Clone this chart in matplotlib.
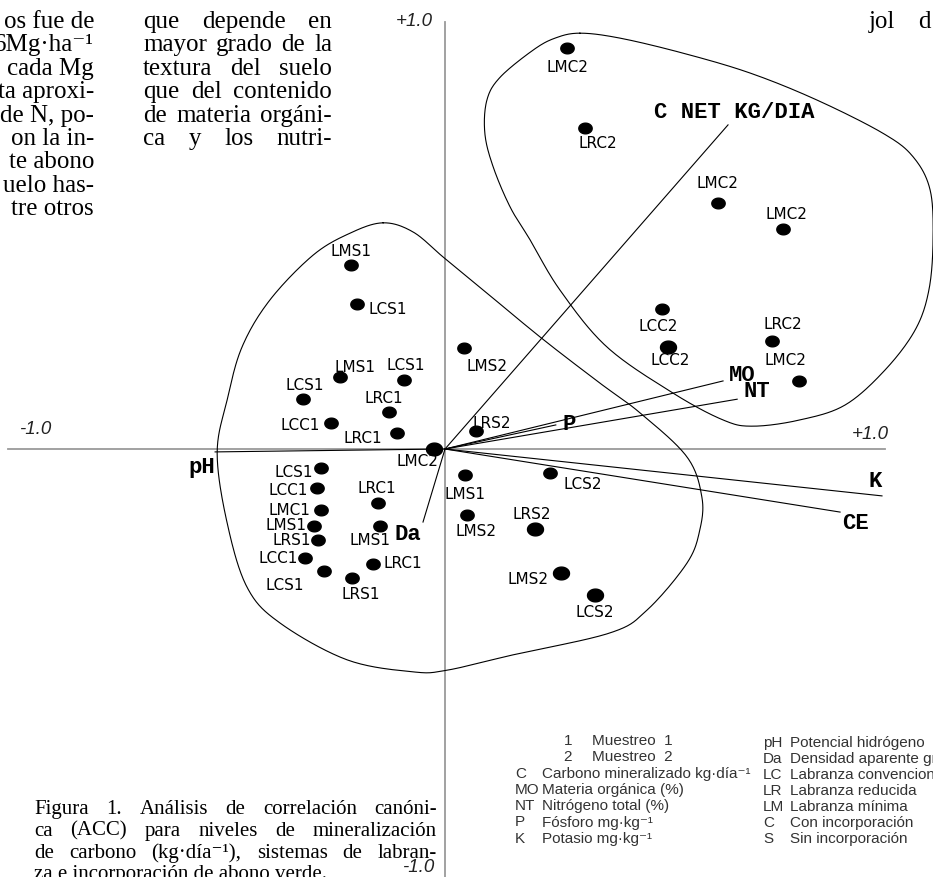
import numpy as np
import matplotlib
matplotlib.use('Agg')
import matplotlib.pyplot as plt
from matplotlib.path import Path

W, H = 933, 877
SERIF = ['Liberation Serif', 'DejaVu Serif']
SANS = ['Liberation Sans', 'DejaVu Sans']
MONO = ['Liberation Mono', 'DejaVu Sans Mono']

# canonical scores of the samples (axis 1, axis 2)
sample_names = ['LMC2', 'LRC2', 'LMC2', 'LMC2', 'LCC2', 'LCC2', 'LRC2', 'LMC2',
                'LMS2', 'LRS2', 'LMC2', 'LMS1', 'LCS2', 'LMS2', 'LRS2', 'LMS2', 'LCS2',
                'LMS1', 'LCS1', 'LMS1', 'LCS1', 'LCS1', 'LRC1', 'LCC1', 'LRC1',
                'LCS1', 'LCC1', 'LMC1', 'LMS1', 'LRS1', 'LCC1', 'LCS1', 'LRS1',
                'LRC1', 'LMS1', 'LRC1']
sample_x = [0.294, 0.337, 0.658, 0.814, 0.523, 0.537, 0.788, 0.853,
            0.046, 0.075, -0.027, 0.048, 0.253, 0.053, 0.217, 0.280, 0.361,
            -0.227, -0.212, -0.253, -0.099, -0.342, -0.135, -0.275, -0.116,
            -0.299, -0.308, -0.299, -0.316, -0.306, -0.337, -0.292, -0.224,
            -0.161, -0.157, -0.173]
sample_y = [0.966, 0.773, 0.593, 0.530, 0.337, 0.246, 0.260, 0.164,
            0.243, 0.043, 0.000, -0.063, -0.058, -0.159, -0.193, -0.299, -0.352,
            0.443, 0.349, 0.173, 0.166, 0.120, 0.089, 0.063, 0.039,
            -0.046, -0.094, -0.147, -0.186, -0.219, -0.263, -0.294, -0.311,
            -0.130, -0.186, -0.277]

# correlations of the variables with the canonical axes
var_names = ['C NET KG/DIA', 'MO', 'NT', 'P', 'K', 'CE', 'pH', 'Da']
var_x = [0.682, 0.670, 0.704, 0.267, 1.053, 0.952, -0.554, -0.053]
var_y = [0.781, 0.164, 0.120, 0.058, -0.113, -0.152, -0.007, -0.176]

# outline of the two groups of samples
group1_x = [0.325, 0.422, 0.573, 0.735, 0.896, 1.055, 1.128, 1.169, 1.176, 1.166,
            1.133, 1.060, 0.964, 0.855, 0.742, 0.670, 0.549, 0.390, 0.277, 0.205,
            0.157, 0.116, 0.096, 0.101, 0.133, 0.212, 0.265]
group1_y = [1.002, 0.990, 0.954, 0.906, 0.841, 0.761, 0.704, 0.624, 0.504, 0.383,
            0.287, 0.190, 0.106, 0.070, 0.055, 0.070, 0.135, 0.246, 0.383, 0.504,
            0.583, 0.680, 0.761, 0.841, 0.896, 0.961, 0.990]
group2_x = [-0.149, -0.077, -0.005, 0.072, 0.229, 0.373, 0.470, 0.583, 0.619, 0.614,
            0.583, 0.487, 0.398, 0.164, 0.005, -0.077, -0.236, -0.398, -0.477, -0.525,
            -0.549, -0.525, -0.489, -0.422, -0.318, -0.229]
group2_y = [0.545, 0.523, 0.463, 0.400, 0.270, 0.159, 0.087, -0.019, -0.116, -0.195,
            -0.275, -0.388, -0.443, -0.496, -0.533, -0.537, -0.508, -0.419, -0.333, -0.178,
            -0.010, 0.118, 0.246, 0.359, 0.467, 0.520]

col1 = ['os fue de', '6Mg·ha⁻¹', 'cada Mg', 'ta aproxi-', 'de N, po-',
        'on la in-', 'te abono', 'uelo has-', 'tre otros']
col2 = ['que depende en', 'mayor grado de la', 'textura del suelo',
        'que del contenido', 'de materia orgáni-', 'ca y los nutri-']
caption = ['Figura 1. Análisis de correlación canóni-',
           'ca (ACC) para niveles de mineralización',
           'de carbono (kg·día⁻¹), sistemas de labran-',
           'za e incorporación de abono verde.']
legend_left = [('1', 'Muestreo  1'), ('2', 'Muestreo  2'),
               ('C', 'Carbono mineralizado kg·día⁻¹'), ('MO', 'Materia orgánica (%)'),
               ('NT', 'Nitrógeno total (%)'), ('P', 'Fósforo mg·kg⁻¹'),
               ('K', 'Potasio mg·kg⁻¹')]
legend_right = [('pH', 'Potencial hidrógeno'), ('Da', 'Densidad aparente gr·cm⁻³'),
                ('LC', 'Labranza convencional'), ('LR', 'Labranza reducida'),
                ('LM', 'Labranza mínima'), ('C', 'Con incorporación'),
                ('S', 'Sin incorporación')]

# label offsets (pixels) for samples and vectors
label_off = [(0, -19), (13, -15), (-1, 19), (4, 15), (-4, -17), (2, -14), (11, 17), (-14, 20),
             (23, -18), (16, 8), (-16, -13), (0, -19), (33, -11), (9, -17), (-3, 15), (-33, -6),
             (0, -17),
             (0, 14), (31, -5), (15, 10), (2, 15), (2, 14), (-5, 14), (-31, -3), (-34, -6),
             (-27, -4), (-29, -2), (-31, 0), (-28, 1), (-26, -1), (-27, 0), (-39, -14), (9, -16),
             (-1, 14), (-10, -14), (30, 0)]
big = {5, 10, 14, 15, 16}
var_off = [(6, 12), (19, 5), (20, 8), (13, 0), (-7, 14), (15, -11), (-13, -16), (-15, -12)]

UNIT = 415.0
OX, OY = 445.0, 449.0

fig = plt.figure(figsize=(W / 100, H / 100), dpi=100)
ax = fig.add_axes([0, 0, 1, 1])
ax.set_xlim(-OX / UNIT, (W - OX) / UNIT)
ax.set_ylim(-(H - OY) / UNIT, OY / UNIT)
ax.axis('off')


def fx(x):
    return x / W


def fy(y):
    return 1 - y / H


def smooth_closed(xs, ys, n=20):
    p = np.c_[xs, ys]
    m = len(p)
    out = []
    t = np.linspace(0, 1, n, endpoint=False)[:, None]
    for i in range(m):
        p0, p1, p2, p3 = p[i - 1], p[i], p[(i + 1) % m], p[(i + 2) % m]
        out.append(0.5 * (2 * p1 + (-p0 + p2) * t + (2 * p0 - 5 * p1 + 4 * p2 - p3) * t ** 2
                          + (-p0 + 3 * p1 - 3 * p2 + p3) * t ** 3))
    out = np.vstack(out + [p[:1]])
    return out[:, 0], out[:, 1]


# axes through the origin
ax.plot([-1.053, 1.060], [0, 0], color='#9a9a9a', lw=1.3, zorder=1)
ax.plot([0, 0], [1.03, -1.06], color='#9a9a9a', lw=1.3, zorder=1)
lab = dict(family=SANS, style='italic', size=13.5, color='#222', ha='center', va='center')
ax.text(1.024, 0.034, '+1.0', **lab)
ax.text(-0.988, 0.046, '-1.0', **lab)
ax.text(-0.075, 1.031, '+1.0', **lab)
ax.text(-0.065, -1.009, '-1.0', **lab)

# group outlines
for gx, gy in [(group1_x, group1_y), (group2_x, group2_y)]:
    sx, sy = smooth_closed(gx, gy)
    ax.plot(sx, sy, color='k', lw=0.8, zorder=2)

# variable vectors
for name, vx, vy, off in zip(var_names, var_x, var_y, var_off):
    ax.plot([0, vx], [0, vy], color='k', lw=0.8, zorder=2)
    ax.annotate(name, (vx, vy), xytext=off, textcoords='offset pixels',
                ha='center', va='center', family=MONO, weight='bold', size=16)

# sample scores
th = np.linspace(0, 2 * np.pi, 48)
dot = Path(np.c_[1.25 * np.cos(th), np.sin(th)], closed=True)
for i, (name, x, y) in enumerate(zip(sample_names, sample_x, sample_y)):
    ax.plot(x, y, ls='none', marker=dot, ms=11.5 if i in big else 9.6,
            color='k', mec='k', zorder=3)
    ax.annotate(name, (x, y), xytext=label_off[i], textcoords='offset pixels',
                ha='center', va='center', family=['DejaVu Sans'], size=11)

# page text around the figure
renderer = fig.canvas.get_renderer()


def justify(line, x0, x1, y, size, last=False):
    if last:
        fig.text(fx(x0), fy(y), line, family=SERIF, size=size, va='baseline')
        return
    items = [fig.text(fx(x0), fy(y), w, family=SERIF, size=size, va='baseline')
             for w in line.split()]
    widths = [t.get_window_extent(renderer).width for t in items]
    gap = (x1 - x0 - sum(widths)) / (len(items) - 1)
    x = x0
    for t, w in zip(items, widths):
        t.set_x(fx(x))
        x += w + gap


for k, line in enumerate(col1):
    fig.text(fx(94), fy(28 + 23.4 * k), line, family=SERIF, size=18,
             ha='right', va='baseline')
for k, line in enumerate(col2):
    justify(line, 143, 332, 28 + 23.4 * k, 18)
justify('jol d', 869, 931, 28, 18)

for k, line in enumerate(caption):
    justify(line, 34, 437, 814 + 21.8 * k, 15, last=(k == len(caption) - 1))

# legend of abbreviations
leg = dict(family=SANS, size=11, color='#333', va='center')
for k, (code, desc) in enumerate(legend_left):
    y = 741 + 16.3 * k
    if k < 2:
        fig.text(fx(568), fy(y), code, ha='center', **leg)
        fig.text(fx(592), fy(y), desc, **leg)
    else:
        fig.text(fx(515), fy(y), code, **leg)
        fig.text(fx(542), fy(y), desc, **leg)
for k, (code, desc) in enumerate(legend_right):
    y = 743 + 16 * k
    fig.text(fx(763), fy(y), code, **leg)
    fig.text(fx(790), fy(y), desc, **leg)

fig.savefig('out.png', dpi=100)
